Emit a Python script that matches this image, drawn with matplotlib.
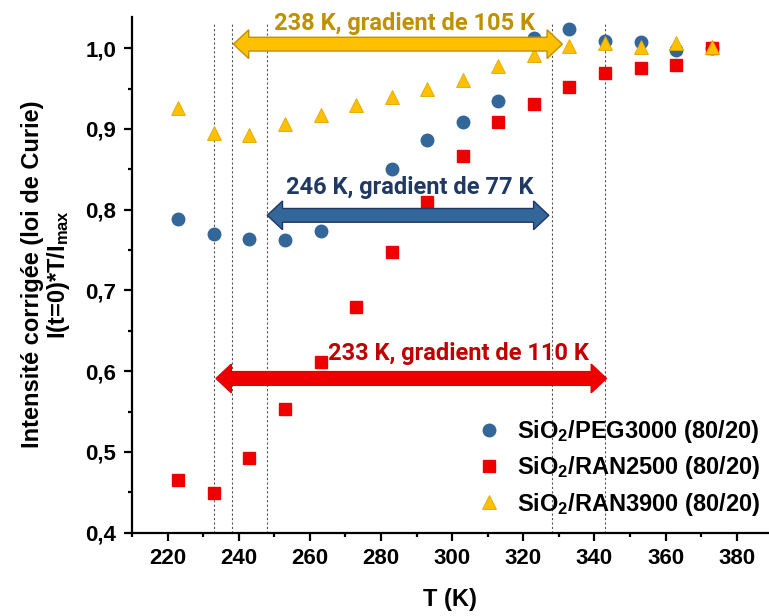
import numpy as np
import matplotlib
matplotlib.use("Agg")
from matplotlib import pyplot as plt
from matplotlib.patches import Polygon
from matplotlib.ticker import MultipleLocator

plt.rcParams['font.family'] = ['Liberation Sans', 'DejaVu Sans']
plt.rcParams['font.weight'] = 'bold'
plt.rcParams['mathtext.fontset'] = 'custom'
plt.rcParams['mathtext.rm'] = 'Liberation Sans:bold'
plt.rcParams['mathtext.bf'] = 'Liberation Sans:bold'
plt.rcParams['mathtext.default'] = 'bf'

# temperatures (K)
T = [223, 233, 243, 253, 263, 273, 283, 293, 303, 313, 323, 333, 343, 353, 363, 373]

peg3000 = [0.788, 0.770, 0.764, 0.763, 0.774, np.nan, 0.851, 0.886, 0.908, 0.935,
           1.013, 1.024, 1.009, 1.008, 0.998, 1.000]
ran2500 = [0.465, 0.449, 0.492, 0.553, 0.611, 0.680, 0.747, 0.810, 0.867, 0.909,
           0.931, 0.952, 0.969, 0.975, 0.979, 1.000]
ran3900 = [0.926, 0.895, 0.893, 0.906, 0.917, 0.930, 0.940, 0.949, 0.961, 0.978,
           0.992, 1.003, 1.006, 1.002, 1.006, 1.001]

labels = ['SiO$_2$/PEG3000 (80/20)', 'SiO$_2$/RAN2500 (80/20)', 'SiO$_2$/RAN3900 (80/20)']

# vertical guide lines (K)
guides = [233, 238, 248, 328, 343]

# double arrows: start, end, level, text
arrow_start = [238.5, 248, 233.6]
arrow_end = [331, 327.2, 343.4]
arrow_y = [1.005, 0.793, 0.591]
arrow_text = ['238 K, gradient de 105 K', '246 K, gradient de 77 K', '233 K, gradient de 110 K']
arrow_face = ['#FFC000', '#336699', '#EE0000']
arrow_edge = ['#BF9000', '#1F3864', '#E00000']
text_color = ['#BF9000', '#1F3864', '#C00000']
text_x = [286.7, 288.0, 301.9]
text_y = [1.0227, 0.8196, 0.6137]


def double_arrow(ax, x0, x1, y, fc, ec):
    hl = 4.3
    sh = 0.0085
    hh = 0.0178
    verts = [(x0, y), (x0 + hl, y + hh), (x0 + hl, y + sh), (x1 - hl, y + sh),
             (x1 - hl, y + hh), (x1, y), (x1 - hl, y - hh), (x1 - hl, y - sh),
             (x0 + hl, y - sh), (x0 + hl, y - hh)]
    ax.add_patch(Polygon(verts, closed=True, fc=fc, ec=ec, lw=1.0, zorder=5))


fig = plt.figure(figsize=(7.69, 6.16), dpi=100)
ax = fig.add_axes([0.1713, 0.1352, 0.8287, 0.8377])

for g in guides:
    ax.plot([g, g], [0.4, 1.032], ls=(0, (2, 2)), color='#555555', lw=0.8, zorder=1)

ax.plot(T, peg3000, 'o', ms=9, color='#336699', mec='#336699', label=labels[0], zorder=3)
ax.plot(T, ran2500, 's', ms=8, color='#EE0000', mec='#EE0000', label=labels[1], zorder=3)
ax.plot(T, ran3900, '^', ms=10, color='#FFC000', mec='#E0A800', mew=0.6, label=labels[2], zorder=3)

for i in range(3):
    double_arrow(ax, arrow_start[i], arrow_end[i], arrow_y[i], arrow_face[i], arrow_edge[i])
    ax.text(text_x[i], text_y[i], arrow_text[i], color=text_color[i], fontsize=17,
            fontweight='bold', ha='center', va='baseline', zorder=6,
            family=['Roboto', 'DejaVu Sans'])

ax.set_xlim(209.9, 389.1)
ax.set_ylim(0.4, 1.039)
ax.xaxis.set_major_locator(MultipleLocator(20))
ax.xaxis.set_minor_locator(MultipleLocator(10))
ax.yaxis.set_major_locator(MultipleLocator(0.1))
ax.yaxis.set_minor_locator(MultipleLocator(0.05))
ax.yaxis.set_major_formatter(lambda v, p: f"{v:.1f}".replace('.', ','))

for s in ['top', 'right']:
    ax.spines[s].set_visible(False)
for s in ['left', 'bottom']:
    ax.spines[s].set_linewidth(1.6)
ax.tick_params(which='major', length=6, width=1.6, labelsize=16, pad=5)
ax.tick_params(which='minor', length=3, width=1.6)

ax.set_xlabel('T (K)', fontsize=17, fontweight='bold', labelpad=14)
ax.set_ylabel('Intensité corrigée (loi de Curie)\nI(t=0)*T/I$_{max}$', fontsize=17,
              fontweight='bold', linespacing=1.05)
ax.yaxis.set_label_coords(-0.093, 0.5)

ax.legend(loc='lower right', bbox_to_anchor=(1.02, -0.012), frameon=False, fontsize=17,
          handletextpad=0.6, labelspacing=0.4, handlelength=1.2)

fig.savefig('out.png', dpi=100)
